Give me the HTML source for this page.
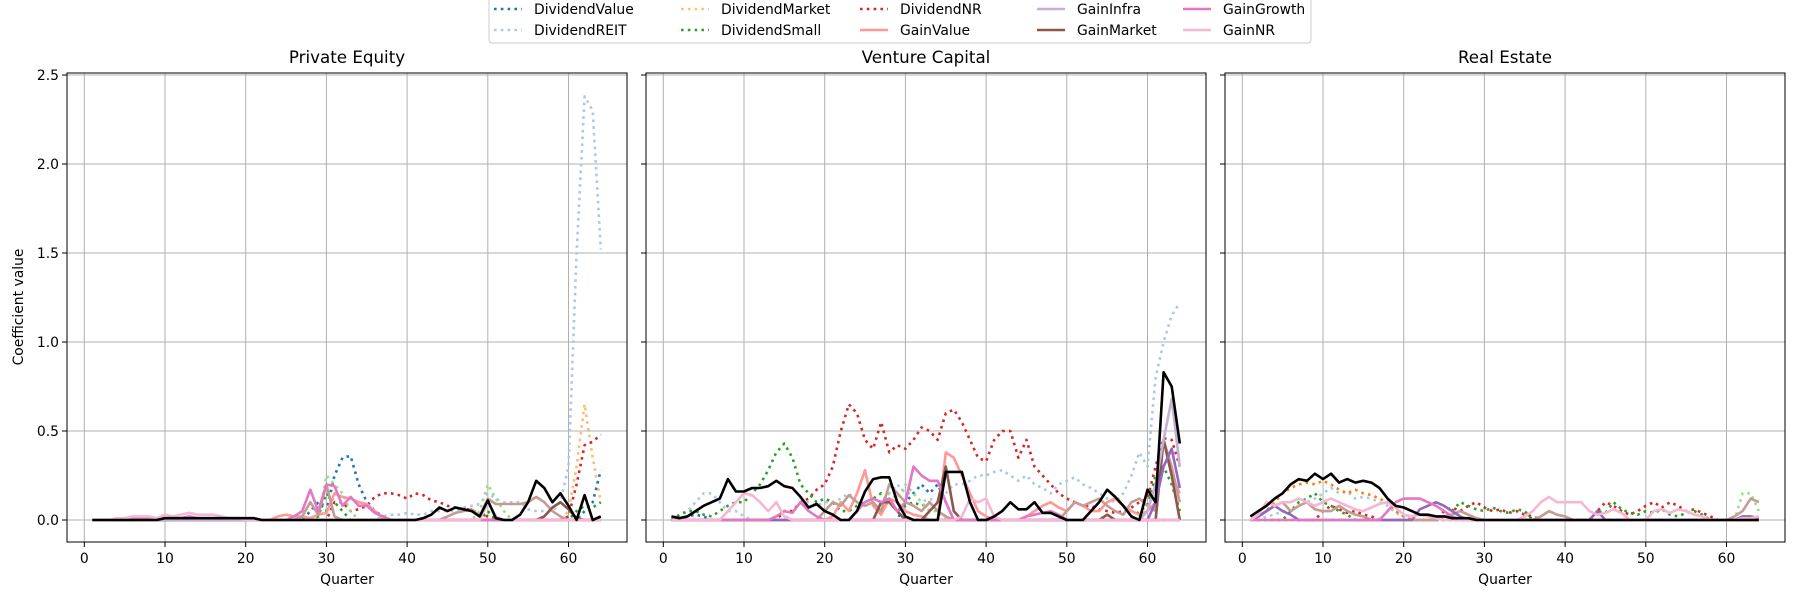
<!DOCTYPE html>
<html><head><meta charset="utf-8"><style>
html,body{margin:0;padding:0;background:#fff}
svg{display:block}
text{font-family:"DejaVu Sans","Liberation Sans",sans-serif;fill:#000}
</style></head><body>
<svg id="chart" width="1800" height="600" viewBox="0 0 1800 600" xmlns="http://www.w3.org/2000/svg"></svg>
<script>
const quarters = Array.from({length:64},(_,i)=>i+1);
const xTicks = [0,10,20,30,40,50,60];
const yTicks = [0,0.5,1,1.5,2,2.5];
const yTickLabels = ["0.0","0.5","1.0","1.5","2.0","2.5"];
const panelTitles = ["Private Equity","Venture Capital","Real Estate"];
const Z = new Array(64).fill(0);

// ---- Private Equity ----
const pe_black = [0,0,0,0,0,0,0,0,0,0.01, 0.01,0.01,0.01,0.01,0.01,0.01,0.01,0.01,0.01,0.01, 0.01,0,0,0,0,0,0,0,0,0, 0,0,0,0,0,0,0,0,0,0, 0,0.01,0.03,0.07,0.05,0.07,0.06,0.05,0.02,0.11, 0.01,0,0,0.03,0.1,0.22,0.18,0.1,0.15,0.08, 0,0.14,0,0.02];
const pe_divValue = [0,0,0,0,0,0,0,0,0,0, 0,0,0,0,0,0,0,0,0,0, 0,0,0,0,0,0,0,0.05,0.1,0.05, 0.25,0.35,0.36,0.2,0.1,0.05,0.02,0,0,0, 0,0,0,0,0,0,0,0,0,0, 0,0,0,0,0,0,0,0,0,0, 0,0.05,0.1,0.28];
const pe_divREIT = [0,0,0,0,0,0,0,0,0,0, 0,0,0,0,0,0,0,0,0,0, 0,0,0,0,0,0,0,0,0,0, 0,0,0,0,0,0,0.02,0.03,0.03,0.04, 0.03,0.03,0.05,0.05,0.05,0.05,0.07,0.08,0.09,0.15, 0.12,0.1,0.1,0.1,0.06,0.05,0.05,0.05,0.1,0.3, 1.5,2.38,2.3,1.52];
const pe_divMarket = [0,0,0,0,0,0,0,0,0,0, 0,0,0,0,0,0,0,0,0,0, 0,0,0,0,0,0,0,0,0,0, 0,0,0,0,0,0,0,0,0,0, 0,0,0,0,0,0,0,0,0,0, 0,0,0,0,0,0,0,0,0,0.05, 0.3,0.65,0.35,0.1];
const pe_divSmall = [0,0,0,0,0,0,0,0,0,0, 0,0,0,0,0,0,0,0,0,0, 0,0,0,0,0,0,0,0,0.02,0.15, 0.1,0.05,0,0,0,0,0,0,0,0, 0,0,0,0,0,0,0,0,0,0.05, 0,0,0,0,0,0,0,0,0,0, 0.05,0.08,0.07,0.1];
const pe_divOther = [0,0,0,0,0,0,0,0,0,0, 0,0,0,0,0,0,0,0,0,0, 0,0,0,0,0,0,0,0,0,0.25, 0.2,0.15,0.05,0,0,0,0,0,0,0, 0,0,0,0,0,0,0,0,0.05,0.2, 0.12,0.05,0,0,0,0,0,0,0,0, 0,0,0,0];
const pe_divNR = [0,0,0,0,0,0,0,0,0,0, 0,0,0,0,0,0,0,0,0,0, 0,0,0,0,0,0,0,0,0,0, 0.1,0.1,0.05,0.06,0.08,0.13,0.15,0.15,0.14,0.12, 0.15,0.14,0.11,0.1,0.08,0.07,0.06,0.06,0.03,0.02, 0,0,0,0,0,0,0,0,0,0.02, 0.2,0.42,0.44,0.48];
const pe_gainValue = [0,0,0,0,0,0,0,0,0,0, 0,0,0,0,0,0,0,0,0,0, 0,0,0,0.02,0.03,0.02,0.02,0.01,0.03,0.04, 0.15,0.13,0.12,0.1,0.09,0.05,0.01,0,0,0, 0,0,0,0,0,0,0,0,0,0, 0,0,0,0,0,0,0,0,0,0, 0,0,0,0];
const pe_gainGrowth = [0,0,0,0,0.01,0.01,0.01,0.01,0.01,0.01, 0.01,0.01,0.02,0.01,0.01,0.01,0.01,0.01,0.01,0, 0,0,0,0,0,0.02,0.05,0.17,0.05,0.2, 0.19,0.08,0.13,0.08,0.08,0.04,0.02,0,0,0, 0,0,0,0,0,0,0,0,0,0, 0,0,0,0,0,0,0,0,0,0, 0,0,0,0];
const pe_gainOther = [0,0,0,0,0,0,0,0,0,0, 0,0,0,0,0,0,0,0,0,0, 0,0,0,0,0,0,0.02,0.1,0.03,0.2, 0.02,0,0,0,0,0,0,0,0,0, 0,0,0,0,0.02,0.04,0.05,0.06,0.02,0.12, 0.09,0.09,0.09,0.09,0.1,0.13,0.1,0.05,0.02,0, 0,0,0,0];
const pe_gainNR = [0,0,0,0.01,0.01,0.02,0.02,0.02,0.01,0.03, 0.02,0.03,0.04,0.03,0.03,0.03,0.02,0.01,0.01,0, 0,0,0,0,0,0,0,0,0,0, 0,0,0,0,0,0,0,0,0,0, 0,0,0,0,0,0,0,0,0,0.1, 0.02,0,0,0,0,0,0,0,0,0, 0,0,0,0];
const pe_gainMarket = [0,0,0,0,0,0,0,0,0,0, 0,0,0,0,0,0,0,0,0,0, 0,0,0,0,0,0,0,0,0,0, 0,0,0,0,0,0,0,0,0,0, 0,0,0,0,0,0,0,0,0,0, 0,0,0,0,0,0,0.02,0.07,0.1,0.06, 0.01,0,0,0];

// ---- Venture Capital ----
const vc_black = [0.02,0.01,0.02,0.05,0.08,0.1,0.12,0.23,0.16,0.16, 0.18,0.18,0.19,0.22,0.19,0.18,0.13,0.07,0.09,0.05, 0.03,0,0,0.05,0.16,0.23,0.24,0.24,0.1,0.02, 0,0,0,0,0.27,0.27,0.27,0.1,0,0, 0.02,0.05,0.1,0.06,0.06,0.1,0.04,0.04,0.02,0, 0,0,0.05,0.1,0.17,0.13,0.08,0.02,0,0.17, 0.1,0.83,0.75,0.43];
const vc_divNR = [0,0,0,0,0,0,0,0,0,0, 0,0,0,0,0.05,0.05,0.1,0.12,0.17,0.2, 0.3,0.5,0.65,0.6,0.45,0.4,0.55,0.38,0.42,0.4, 0.45,0.52,0.5,0.45,0.6,0.62,0.55,0.45,0.35,0.33, 0.45,0.5,0.5,0.35,0.45,0.3,0.25,0.2,0.15,0.12, 0.1,0.08,0.08,0.06,0.05,0.04,0.05,0.07,0.1,0.12, 0.3,0.46,0.45,0.3];
const vc_divREIT = [0,0.02,0.05,0.1,0.15,0.15,0.1,0.05,0.05,0.02, 0,0,0,0,0,0.05,0.1,0.1,0.08,0.1, 0.1,0.12,0.15,0.1,0.1,0.12,0.1,0.15,0.2,0.15, 0.15,0.1,0.12,0.1,0.15,0.2,0.2,0.22,0.25,0.25, 0.27,0.28,0.25,0.22,0.25,0.2,0.18,0.15,0.2,0.22, 0.24,0.2,0.18,0.15,0.12,0.1,0.15,0.25,0.38,0.3, 0.8,1.0,1.15,1.22];
const vc_divSmall = [0,0.03,0.05,0.05,0.03,0.02,0.05,0.08,0.1,0.1, 0.15,0.2,0.28,0.38,0.43,0.35,0.2,0.15,0.1,0.12, 0.1,0.05,0.05,0.08,0.1,0.12,0.15,0.1,0.05,0.08, 0.1,0.08,0.1,0.05,0.02,0,0,0,0,0, 0,0,0,0,0,0,0,0,0,0, 0,0,0,0,0,0,0,0,0.05,0.08, 0.25,0.3,0.2,0.05];
const vc_divValue = [0,0,0.02,0.03,0.02,0,0,0,0,0, 0,0,0,0,0,0,0,0,0,0, 0,0,0,0,0,0,0,0,0,0.1, 0.15,0.2,0.15,0.2,0.1,0,0,0,0,0, 0,0,0,0,0,0,0,0,0,0, 0,0,0,0,0,0,0,0,0,0, 0,0,0,0];
const vc_divOther = [0,0,0,0,0,0,0,0,0,0, 0,0,0,0,0,0,0,0,0,0, 0,0,0,0,0,0,0.1,0.15,0.12,0.2, 0.15,0.1,0.05,0.05,0,0,0,0,0,0, 0,0,0,0,0,0,0,0,0,0, 0,0,0,0,0,0,0,0,0,0, 0,0,0,0];
const vc_gainValue = [0,0,0,0,0,0,0,0,0,0, 0,0,0,0,0,0,0,0,0,0, 0.02,0.1,0.05,0.15,0.28,0.08,0.03,0.12,0.1,0.05, 0.03,0.02,0,0,0.38,0.35,0.25,0.15,0.05,0.02, 0,0,0,0,0.02,0.05,0.08,0.1,0.07,0.05, 0.1,0.08,0.05,0.05,0.1,0.12,0.08,0.05,0.03,0.05, 0.1,0.45,0.25,0.15];
const vc_gainGrowth = [0,0,0,0,0,0,0,0,0,0, 0,0,0,0.02,0.05,0.04,0.1,0.05,0.02,0, 0,0,0,0.05,0.1,0.12,0.1,0.12,0.05,0.1, 0.3,0.25,0.22,0.22,0.1,0,0,0,0,0, 0,0,0,0,0.02,0.03,0.04,0.05,0.03,0, 0,0,0,0,0,0,0,0,0,0, 0,0,0,0];
const vc_gainNR = [0,0,0,0,0,0,0,0.05,0.1,0.15, 0.14,0.1,0.05,0.1,0.02,0,0,0,0,0, 0,0,0,0,0,0,0,0,0,0, 0,0,0,0,0,0,0.02,0.12,0.1,0.12, 0.02,0,0,0,0,0,0,0,0,0, 0,0,0,0,0,0,0,0,0,0, 0,0,0,0];
const vc_gainOther = [0,0,0,0,0,0,0,0,0,0, 0,0,0,0,0,0,0,0,0,0.05, 0.1,0.08,0.14,0.1,0.08,0.1,0.05,0.2,0.15,0.1, 0.08,0.05,0.1,0.05,0.02,0,0,0,0,0, 0,0,0,0,0,0,0,0,0,0.05, 0.1,0.08,0.1,0.12,0.08,0.05,0.03,0.1,0.12,0.08, 0.05,0.45,0.3,0.1];
const vc_gainMarket = [0,0,0,0,0,0,0,0,0,0, 0,0,0,0,0,0,0,0,0,0, 0,0,0,0,0,0,0.1,0.1,0.05,0, 0,0,0.05,0.1,0.3,0.05,0,0,0,0, 0,0,0,0,0,0,0,0,0,0, 0,0,0,0,0.03,0,0,0,0,0, 0,0.45,0.25,0];
const vc_gainInfra = [0,0,0,0,0,0,0,0,0,0, 0,0,0,0,0,0,0,0,0,0, 0,0,0,0,0,0,0,0,0,0, 0,0,0,0,0,0,0,0,0,0, 0,0,0,0,0,0,0,0,0,0, 0,0,0,0,0,0,0,0,0,0.05, 0.2,0.45,0.68,0.3];
const vc_gainPurple = [0,0,0,0,0,0,0,0,0,0, 0,0,0,0,0,0,0,0,0,0, 0,0,0,0,0,0,0,0,0,0, 0,0,0,0,0,0,0,0,0,0, 0,0,0,0,0,0,0,0,0,0, 0,0,0,0,0,0,0,0,0,0, 0.1,0.3,0.4,0.18];

// ---- Real Estate ----
const re_black = [0.02,0.05,0.08,0.12,0.15,0.2,0.23,0.22,0.26,0.23, 0.26,0.21,0.23,0.21,0.22,0.21,0.18,0.12,0.08,0.07, 0.05,0.03,0.03,0.02,0.02,0.01,0.01,0.01,0,0, 0,0,0,0,0,0,0,0,0,0, 0,0,0,0,0,0,0,0,0,0, 0,0,0,0,0,0,0,0,0,0, 0,0,0,0];
const re_divOrange = [0,0.02,0.05,0.1,0.15,0.18,0.2,0.21,0.2,0.22, 0.2,0.17,0.15,0.17,0.15,0.14,0.12,0.1,0.05,0.02, 0,0,0,0,0,0,0,0,0,0, 0,0,0,0,0,0,0,0,0,0, 0,0,0,0,0,0,0,0,0,0, 0,0,0,0,0,0,0,0,0,0, 0,0,0,0];
const re_divREIT = [0,0,0.02,0.03,0.05,0.05,0.08,0.1,0.12,0.15, 0.18,0.15,0.16,0.12,0.13,0.12,0.1,0.08,0.04,0.02, 0,0,0,0,0,0,0,0,0,0, 0,0,0,0,0,0,0,0,0,0, 0,0,0,0,0,0,0,0,0,0, 0,0,0,0,0,0,0,0,0,0, 0,0,0,0];
const re_gainNR = [0,0.03,0.1,0.08,0.1,0.1,0.12,0.1,0.08,0.1, 0.12,0.1,0.08,0.06,0.05,0.07,0.09,0.1,0.07,0.03, 0.02,0.03,0.02,0.01,0,0,0,0,0,0, 0,0,0,0,0.02,0.05,0.1,0.13,0.1,0.1, 0.1,0.1,0.05,0.03,0.04,0.06,0.04,0,0,0, 0.05,0.06,0.04,0.06,0.05,0.03,0.02,0,0,0, 0,0.01,0.01,0.02];
const re_gainGrowth = [0,0,0,0,0,0,0,0,0,0, 0,0,0,0,0,0,0,0.05,0.1,0.12, 0.12,0.12,0.1,0.08,0.05,0.02,0,0,0,0, 0,0,0,0,0,0,0,0,0,0, 0,0,0,0,0,0,0,0,0,0, 0,0,0,0,0,0,0,0,0,0, 0,0,0,0];
const re_gainPurple = [0,0.02,0.05,0.08,0.05,0.03,0,0,0,0, 0,0,0,0,0,0,0,0,0,0, 0,0.06,0.08,0.1,0.08,0.05,0.02,0,0,0, 0,0,0,0,0,0,0,0,0,0, 0,0,0,0.05,0,0,0,0,0,0, 0,0,0,0,0,0,0,0,0,0, 0,0.02,0.02,0.01];
const re_divNR = [0,0,0,0,0,0,0,0,0,0.05, 0.08,0.06,0.04,0.05,0.03,0.02,0,0,0,0, 0,0,0,0,0.05,0.07,0.05,0.08,0.1,0.07, 0.05,0.06,0.04,0.05,0.03,0.02,0,0,0,0, 0,0,0,0.05,0.1,0.08,0.05,0.03,0.05,0.08, 0.1,0.07,0.1,0.08,0.05,0.06,0.04,0.02,0,0, 0,0,0,0];
const re_divSmall = [0,0,0,0,0,0.05,0.1,0.12,0.15,0.1, 0.08,0.05,0.03,0,0,0,0,0,0,0, 0,0,0,0,0,0.05,0.1,0.08,0.06,0.05, 0.07,0.05,0.04,0.06,0.05,0,0,0,0,0, 0,0,0,0.05,0.04,0.1,0.06,0.04,0.03,0.05, 0.04,0.06,0.03,0.02,0.04,0.05,0.03,0,0,0, 0,0,0,0];
const re_gainOther = [0,0.02,0.05,0.08,0.1,0.05,0.08,0.1,0.06,0.05, 0.05,0.08,0.05,0.03,0.02,0,0,0,0,0, 0,0,0,0,0.02,0.03,0.05,0.03,0.01,0, 0,0,0,0,0,0,0.02,0.05,0.03,0.02, 0,0,0,0,0,0,0,0,0,0, 0,0,0,0,0,0,0,0,0,0, 0.02,0.05,0.12,0.1];
const re_divOther = [0,0,0,0,0,0,0,0,0,0, 0,0,0,0,0,0,0,0,0,0, 0,0,0,0,0,0,0,0,0,0, 0,0,0,0,0,0,0,0,0,0, 0,0,0,0,0,0,0,0,0,0, 0,0,0,0,0,0,0,0,0,0, 0,0.15,0.15,0.05];

const panels = [
  {name:"private-equity", left:67, series:[
    ["divREIT","#aec7e8",true,pe_divREIT],["divMarket","#ffbb78",true,pe_divMarket],["divNR","#d62728",true,pe_divNR],
    ["divValue","#1f77b4",true,pe_divValue],["divSmall","#2ca02c",true,pe_divSmall],["divOther","#98df8a",true,pe_divOther],
    ["gainValue","#ff9896",false,pe_gainValue],["gainOther","#c49c94",false,pe_gainOther],["gainMarket","#8c564b",false,pe_gainMarket],
    ["gainPurple","#9467bd",false,Z],["gainInfra","#c5b0d5",false,Z],["gainGrowth","#e377c2",false,pe_gainGrowth],["gainNR","#f7b6d2",false,pe_gainNR],["total","#000000",false,pe_black]]},
  {name:"venture-capital", left:646, series:[
    ["divREIT","#aec7e8",true,vc_divREIT],["divNR","#d62728",true,vc_divNR],["divSmall","#2ca02c",true,vc_divSmall],
    ["divValue","#1f77b4",true,vc_divValue],["divOther","#98df8a",true,vc_divOther],
    ["gainValue","#ff9896",false,vc_gainValue],["gainOther","#c49c94",false,vc_gainOther],["gainMarket","#8c564b",false,vc_gainMarket],
    ["gainInfra","#c5b0d5",false,vc_gainInfra],["gainPurple","#9467bd",false,vc_gainPurple],["gainGrowth","#e377c2",false,vc_gainGrowth],["gainNR","#f7b6d2",false,vc_gainNR],["total","#000000",false,vc_black]]},
  {name:"real-estate", left:1225, series:[
    ["divREIT","#aec7e8",true,re_divREIT],["divOrange","#ff7f0e",true,re_divOrange],["divNR","#d62728",true,re_divNR],
    ["divSmall","#2ca02c",true,re_divSmall],["divOther","#98df8a",true,re_divOther],
    ["gainOther","#c49c94",false,re_gainOther],["gainPurple","#9467bd",false,re_gainPurple],["gainGrowth","#e377c2",false,re_gainGrowth],
    ["gainNR","#f7b6d2",false,re_gainNR],["total","#000000",false,re_black]]}
];

const NS="http://www.w3.org/2000/svg";
const svg=document.getElementById('chart');
function el(tag,attrs,parent){const e=document.createElementNS(NS,tag);for(const k in attrs)e.setAttribute(k,attrs[k]);(parent||svg).appendChild(e);return e;}
const TOP=73,BOT=542,W=560;
function yScale(v){return 520 - v*178;}
function xScaleFor(left){return q=>left+17.3+q*8.07;}

panels.forEach((p,pi)=>{
  const g=el('g',{});
  
  
  const xs=xScaleFor(p.left);
  const R=p.left+W;
  xTicks.forEach(t=>{
    const gl=el('line',{x1:xs(t),x2:xs(t),y1:TOP,y2:BOT,stroke:'#b0b0b0','stroke-width':1},g);
    
    
    el('line',{x1:xs(t),x2:xs(t),y1:BOT,y2:BOT+5,stroke:'#000','stroke-width':1},g);
    const tl=el('text',{x:xs(t),y:BOT+21,'font-size':'13.9','text-anchor':'middle'},g);
    tl.textContent=t;
    
    
  });
  yTicks.forEach((t,i)=>{
    const gl=el('line',{x1:p.left,x2:R,y1:yScale(t),y2:yScale(t),stroke:'#b0b0b0','stroke-width':1},g);
    
    
    el('line',{x1:p.left-5,x2:p.left,y1:yScale(t),y2:yScale(t),stroke:'#000','stroke-width':1},g);
    if(pi===0){
      const tl=el('text',{x:p.left-8,y:yScale(t)+5,'font-size':'13.9','text-anchor':'end'},g);
      tl.textContent=yTickLabels[i];
      
      
    }
  });
  const clipId='clip'+pi;
  const cp=el('clipPath',{id:clipId},g);
  el('rect',{x:p.left,y:TOP,width:W,height:BOT-TOP},cp);
  const sg=el('g',{'clip-path':'url(#'+clipId+')'},g);
  p.series.forEach(s=>{
    const d=s[3].map((v,i)=>(i?'L':'M')+xs(quarters[i]).toFixed(1)+' '+yScale(v).toFixed(1)).join('');
    const path=el('path',{d:d,fill:'none',stroke:s[1],'stroke-width':2.6,'stroke-linejoin':'round'},sg);
    if(s[2]) path.setAttribute('stroke-dasharray','2.6 4.2');
    
    
  });
  const frame=el('rect',{x:p.left,y:TOP,width:W,height:BOT-TOP,fill:'none',stroke:'#000','stroke-width':1},g);
  
  
  const tt=el('text',{x:p.left+W/2,y:63,'font-size':'16.7','text-anchor':'middle'},g);
  tt.textContent=panelTitles[pi];
  
  
  const xl=el('text',{x:p.left+W/2,y:584,'font-size':'13.9','text-anchor':'middle'},g);
  xl.textContent='Quarter';
  
  
});
const yl=el('text',{x:0,y:0,'font-size':'13.9','text-anchor':'middle',transform:'translate(23,307) rotate(-90)'});
yl.textContent='Coefficient value';



// legend
const legendNames=[["DividendValue","DividendREIT"],["DividendMarket","DividendSmall"],["DividendNR","GainValue"],["GainInfra","GainMarket"],["GainGrowth","GainNR"]];
const legendColors=[["#1f77b4","#aec7e8"],["#ffbb78","#2ca02c"],["#d62728","#ff9896"],["#c5b0d5","#8c564b"],["#e377c2","#f7b6d2"]];
const legendDotted=[[true,true],[true,true],[true,false],[false,false],[false,false]];
const legendColX=[494,681,860,1037,1183];
const lg=el('g',{});


el('rect',{x:489,y:-10,width:822,height:53,rx:3,fill:'#fff','fill-opacity':0.8,stroke:'#cccccc','stroke-width':1},lg);
legendNames.forEach((col,ci)=>{
  col.forEach((nm,ri)=>{
    const yy=9+ri*21;
    const e=el('g',{},lg);
    
    
    const ln=el('line',{x1:legendColX[ci],x2:legendColX[ci]+28,y1:yy,y2:yy,stroke:legendColors[ci][ri],'stroke-width':2.6},e);
    if(legendDotted[ci][ri]) ln.setAttribute('stroke-dasharray','2.6 4.2');
    const t=el('text',{x:legendColX[ci]+40,y:yy+5,'font-size':'13.9'},e);
    t.textContent=nm;
  });
});
</script>
</body></html>
